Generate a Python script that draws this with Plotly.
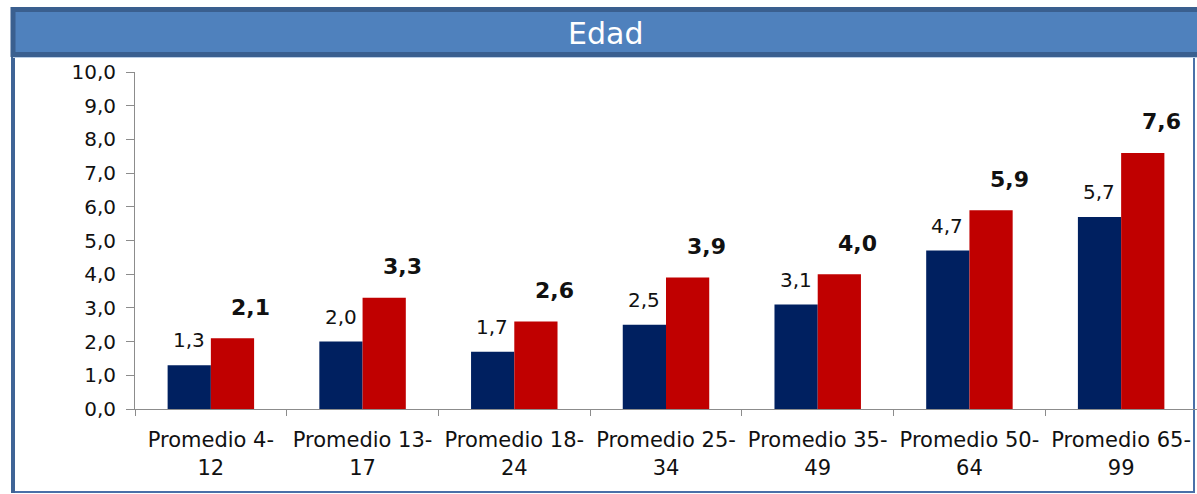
import plotly.graph_objects as go

# categories and values
categories = ["Promedio 4-<br>12", "Promedio 13-<br>17", "Promedio 18-<br>24",
              "Promedio 25-<br>34", "Promedio 35-<br>49", "Promedio 50-<br>64",
              "Promedio 65-<br>99"]
serie_azul = [1.3, 2.0, 1.7, 2.5, 3.1, 4.7, 5.7]
serie_roja = [2.1, 3.3, 2.6, 3.9, 4.0, 5.9, 7.6]
y_ticks = [0, 1, 2, 3, 4, 5, 6, 7, 8, 9, 10]

W, H = 1197, 494
FONT = "DejaVu Sans"


def px(x):
    return x / W


def py(y):
    return 1 - y / H


fig = go.Figure()

fig.add_trace(go.Bar(x=categories, y=serie_azul, name="Serie 1",
                     marker=dict(color="#002060", line=dict(width=0)),
                     hoverinfo="y"))
fig.add_trace(go.Bar(x=categories, y=serie_roja, name="Serie 2",
                     marker=dict(color="#C00000", line=dict(width=0)),
                     hoverinfo="y"))

annotations = []
# value labels: blue normal, red bold and shifted to the right
for c, v in zip(categories, serie_azul):
    annotations.append(dict(x=c, y=v, xref="x", yref="y", text=f"{v:.1f}".replace(".", ","),
                            showarrow=False, xshift=-22, yshift=25, yanchor="middle",
                            font=dict(family=FONT, size=20, color="#111111")))
for c, v in zip(categories, serie_roja):
    annotations.append(dict(x=c, y=v, xref="x", yref="y", text="<b>" + f"{v:.1f}".replace(".", ",") + "</b>",
                            showarrow=False, xshift=40, yshift=31, yanchor="middle",
                            font=dict(family=FONT, size=22, color="#111111")))

# header title
annotations.append(dict(x=px(605), y=py(33), xref="paper", yref="paper", text="Edad",
                        showarrow=False, xanchor="center", yanchor="middle",
                        font=dict(family=FONT, size=30, color="white")))

shapes = [
    # outer frame
    dict(type="rect", xref="paper", yref="paper", x0=px(13), x1=px(1194), y0=py(9), y1=py(492),
         line=dict(color="#4A70A8", width=2), layer="below"),
    dict(type="line", xref="paper", yref="paper", x0=px(13), x1=px(13), y0=py(9), y1=py(493),
         line=dict(color="#3F6496", width=4)),
    # header band
    dict(type="rect", xref="paper", yref="paper", x0=px(13), x1=px(1200), y0=py(9.5), y1=py(54.5),
         fillcolor="#4F81BD", line=dict(color="#3A5F8F", width=5)),
    dict(type="line", xref="paper", yref="paper", x0=px(13), x1=px(1200), y0=py(57.5), y1=py(57.5),
         line=dict(color="#B9CDE5", width=1)),
]

fig.update_layout(
    width=W, height=H,
    margin=dict(l=0, r=0, t=0, b=0, pad=0),
    paper_bgcolor="white", plot_bgcolor="white",
    barmode="group", bargap=0.43, bargroupgap=0,
    showlegend=False,
    separators=",.",
    font=dict(family=FONT, color="#111111"),
    annotations=annotations,
    shapes=shapes,
    xaxis=dict(domain=[px(135), 1], range=[-0.5, 6.5], automargin=False,
               showline=True, linecolor="#8C8C8C", linewidth=1,
               ticks="outside", tickson="boundaries", ticklen=6, tickcolor="#8C8C8C",
               ticklabelstandoff=12, tickangle=0,
               tickfont=dict(family=FONT, size=21, color="#111111"),
               showgrid=False, zeroline=False, fixedrange=True),
    yaxis=dict(domain=[py(409), py(72)], range=[0, 10], automargin=False,
               tickvals=y_ticks, tickformat=".1f",
               showline=True, linecolor="#8C8C8C", linewidth=1,
               ticks="outside", ticklen=8, tickcolor="#8C8C8C",
               ticklabelstandoff=6,
               tickfont=dict(family=FONT, size=20, color="#111111"),
               showgrid=False, zeroline=False, fixedrange=True),
)

fig.write_html("out.html", config={"displayModeBar": False},
               post_script="document.body.style.margin='0';")
